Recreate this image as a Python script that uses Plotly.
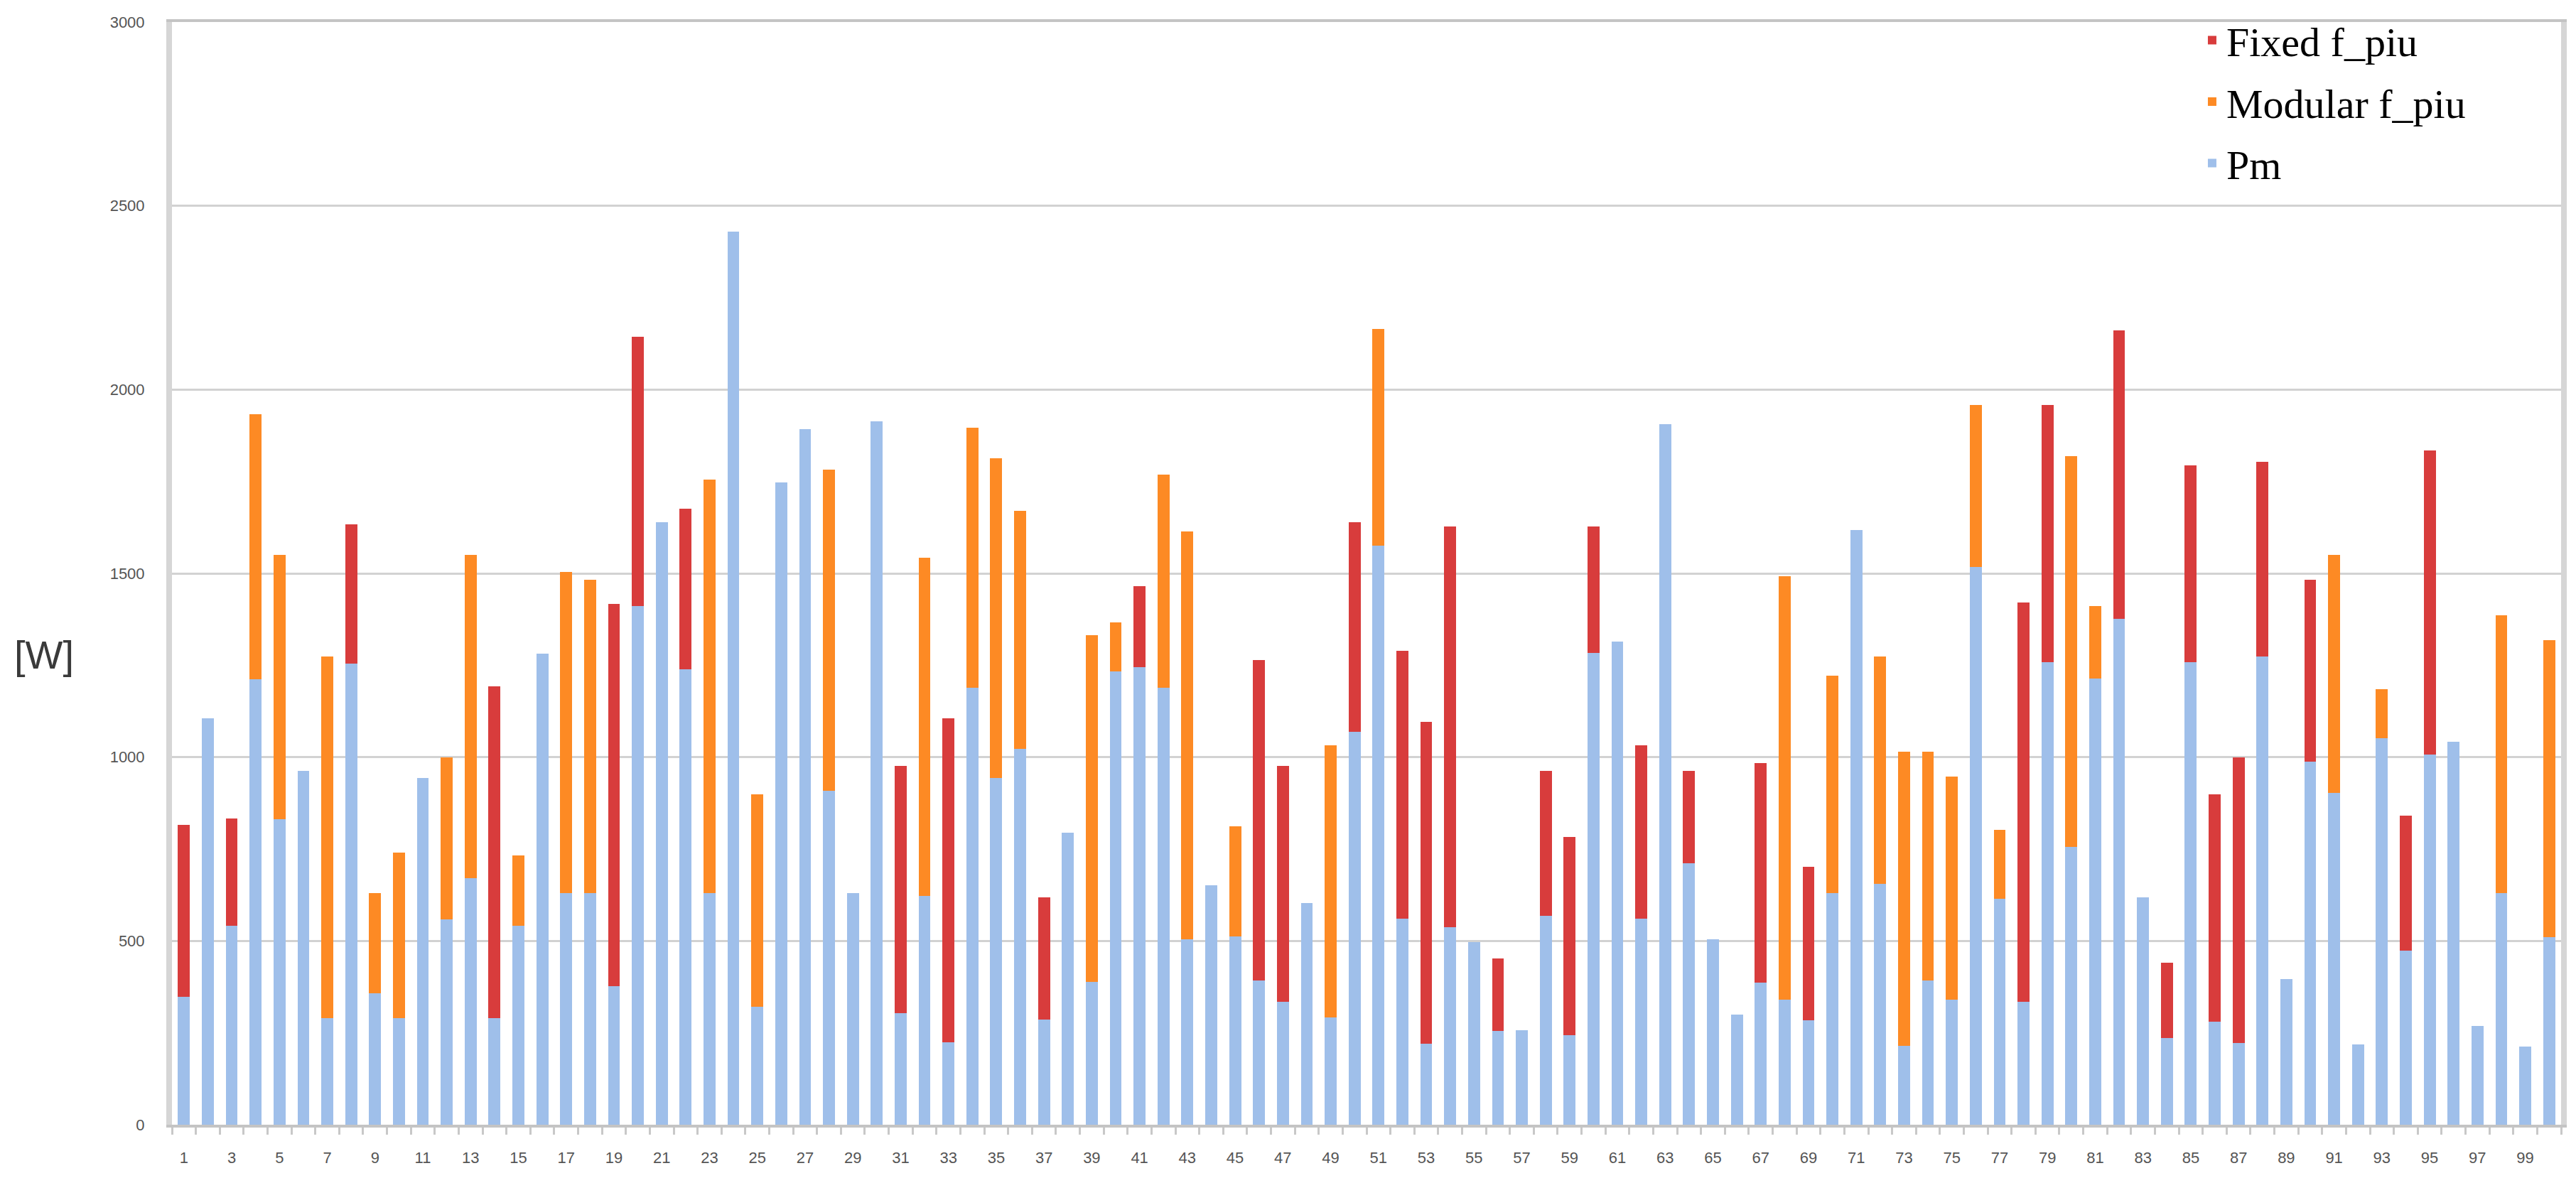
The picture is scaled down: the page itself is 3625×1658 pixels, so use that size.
import plotly.graph_objects as go

# ---------------- data ----------------
categories = list(range(1, 101))

pm = [347, 1106, 541, 1212, 831, 963, 290, 1255, 357, 290,
      943, 559, 671, 290, 541, 1282, 631, 631, 376, 1412,
      1639, 1239, 631, 2429, 320, 1747, 1892, 908, 631, 1914,
      304, 622, 224, 1188, 943, 1022, 286, 794, 388, 1233,
      1245, 1188, 504, 651, 512, 392, 335, 604, 292, 1069,
      1576, 561, 220, 537, 496, 255, 257, 569, 243, 1284,
      1314, 561, 1906, 712, 504, 300, 386, 341, 284, 631,
      1618, 655, 214, 392, 341, 1518, 614, 335, 1259, 755,
      1214, 1376, 618, 235, 1259, 280, 222, 1273, 396, 988,
      902, 218, 1051, 473, 1008, 1041, 269, 631, 212, 510]

fixed_f_piu = [469, 0, 292, 0, 0, 0, 0, 378, 0, 0,
               0, 0, 0, 902, 0, 0, 0, 0, 1040, 731,
               0, 437, 0, 0, 0, 0, 0, 0, 0, 0,
               672, 0, 882, 0, 0, 0, 332, 0, 0, 0,
               220, 0, 0, 0, 0, 873, 641, 0, 0, 570,
               0, 729, 876, 1090, 0, 198, 0, 394, 539, 343,
               0, 472, 0, 251, 0, 0, 598, 0, 418, 0,
               0, 0, 0, 0, 0, 0, 0, 1085, 700, 0,
               0, 785, 0, 206, 535, 618, 778, 531, 0, 494,
               0, 0, 0, 368, 827, 0, 0, 0, 0, 0]

modular_f_piu = [0, 0, 0, 721, 720, 0, 983, 0, 274, 451,
                 0, 441, 880, 0, 192, 0, 873, 851, 0, 0,
                 0, 0, 1124, 0, 578, 0, 0, 874, 0, 0,
                 0, 921, 0, 708, 871, 649, 0, 0, 943, 134,
                 0, 581, 1110, 0, 300, 0, 0, 0, 741, 0,
                 589, 0, 0, 0, 0, 0, 0, 0, 0, 0,
                 0, 0, 0, 0, 0, 0, 0, 1151, 0, 591,
                 0, 618, 800, 622, 606, 441, 188, 0, 0, 1063,
                 198, 0, 0, 0, 0, 0, 0, 0, 0, 0,
                 649, 0, 133, 0, 0, 0, 0, 755, 0, 808]

x_tick_vals = list(range(1, 101, 2))
x_tick_text = [str(v) for v in x_tick_vals]
y_tick_vals = [0, 500, 1000, 1500, 2000, 2500, 3000]
y_tick_text = [str(v) for v in y_tick_vals]

# ---------------- figure ----------------
fig = go.Figure()
fig.add_trace(go.Bar(x=categories, y=pm, name="Pm", legendgroup="pm", legendrank=3,
                     marker=dict(color="#9fbfea", line=dict(width=0))))
fig.add_trace(go.Bar(x=categories, y=modular_f_piu, name="Modular f_piu", legendgroup="mod",
                     legendrank=2, marker=dict(color="#fd8a24", line=dict(width=0))))
fig.add_trace(go.Bar(x=categories, y=fixed_f_piu, name="Fixed f_piu", legendgroup="fix",
                     legendrank=1, marker=dict(color="#d83c3c", line=dict(width=0))))

fig.update_layout(
    width=3625, height=1658,
    margin=dict(l=242, r=21, t=28, b=75),
    barmode="stack",
    bargap=0.5,
    paper_bgcolor="white",
    plot_bgcolor="white",
    font=dict(family="Liberation Sans, Arial, sans-serif", color="#555555"),
    legend=dict(
        x=0.848, y=1.012, xanchor="left", yanchor="top",
        traceorder="grouped",
        bgcolor="rgba(0,0,0,0)",
        font=dict(family="Liberation Serif, Times New Roman, serif", size=58, color="black"),
        tracegroupgap=8,
    ),
    xaxis=dict(
        range=[0.5, 100.5],
        tickmode="array", tickvals=x_tick_vals, ticktext=x_tick_text,
        ticks="", showgrid=False, zeroline=False,
        tickfont=dict(size=22, color="#555555"),
        ticklabelstandoff=24,
        showline=True, linecolor="#c4c4c4", linewidth=4, mirror=True,
        minor=dict(tickmode="linear", tick0=0.5, dtick=1, ticks="outside",
                   ticklen=10, tickwidth=3, tickcolor="#c8c8c8", showgrid=False),
    ),
    yaxis=dict(
        range=[0, 3000],
        tickmode="array", tickvals=y_tick_vals, ticktext=y_tick_text,
        ticks="", showgrid=True, gridcolor="#d2d2d2", gridwidth=3,
        zeroline=False,
        tickfont=dict(size=22, color="#555555"),
        ticklabelstandoff=26,
        showline=True, linecolor="#d6d6d6", linewidth=8, mirror=True,
    ),
    annotations=[
        dict(text="[W]", xref="paper", yref="paper", x=-0.0535, y=0.426,
             xanchor="center", yanchor="middle", showarrow=False,
             font=dict(family="Liberation Sans, Arial, sans-serif", size=56, color="#3a3a3a")),
    ],
)

fig.write_html("out.html",
               config={"displayModeBar": False},
               post_script="document.body.style.margin='0';document.body.style.overflow='hidden';")
